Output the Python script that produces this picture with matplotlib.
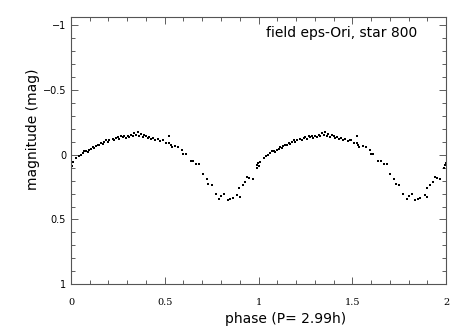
import numpy as np
import matplotlib
matplotlib.use("Agg")
import matplotlib.pyplot as plt
from matplotlib.ticker import MultipleLocator, FixedLocator

# phase-folded light curve, one cycle (drawn twice: phase and phase+1)
phase = [0.005, 0.009, 0.027, 0.041, 0.053, 0.062, 0.071, 0.080, 0.089, 0.098,
         0.107, 0.116, 0.124, 0.133, 0.142, 0.151, 0.160, 0.169, 0.178, 0.187,
         0.196, 0.204, 0.222, 0.231, 0.240, 0.249, 0.258, 0.267, 0.276, 0.284,
         0.293, 0.302, 0.311, 0.320, 0.329, 0.338, 0.347, 0.356, 0.364, 0.373,
         0.382, 0.391, 0.400, 0.409, 0.418, 0.427, 0.439, 0.450, 0.462, 0.475,
         0.489, 0.492, 0.507, 0.524, 0.524, 0.532, 0.537, 0.555, 0.572, 0.594,
         0.599, 0.613, 0.638, 0.652, 0.667, 0.684, 0.702, 0.724, 0.732, 0.750,
         0.773, 0.791, 0.800, 0.816, 0.836, 0.848, 0.862, 0.887, 0.901, 0.898,
         0.916, 0.928, 0.940, 0.951, 0.969, 0.990, 0.994, 0.999]
mag = [0.090, 0.056, 0.026, 0.013, 0.000, -0.013, -0.026, -0.031, -0.021, -0.038,
       -0.046, -0.056, -0.051, -0.064, -0.077, -0.072, -0.090, -0.082, -0.100, -0.110,
       -0.098, -0.115, -0.123, -0.113, -0.128, -0.133, -0.123, -0.141, -0.133, -0.146,
       -0.128, -0.148, -0.138, -0.154, -0.141, -0.167, -0.154, -0.175, -0.141, -0.159,
       -0.133, -0.154, -0.141, -0.128, -0.133, -0.123, -0.128, -0.115, -0.118, -0.108,
       -0.115, -0.115, -0.090, -0.146, -0.090, -0.072, -0.056, -0.064, -0.062, -0.038,
       -0.005, -0.005, 0.046, 0.051, 0.072, 0.072, 0.149, 0.185, 0.226, 0.231,
       0.303, 0.338, 0.320, 0.303, 0.349, 0.338, 0.333, 0.308, 0.328, 0.256,
       0.231, 0.210, 0.174, 0.180, 0.185, 0.103, 0.077, 0.064]

title_text = "field eps-Ori, star 800"
x_label = "phase (P= 2.99h)"
y_label = "magnitude (mag)"

fig = plt.figure(figsize=(4.71, 3.27), dpi=100, facecolor='w')
ax = fig.add_axes([0.1507, 0.1306, 0.7963, 0.8164])

ph = np.array(phase)
mg = np.array(mag)
ax.plot(np.concatenate([ph, ph + 1]), np.concatenate([mg, mg]), 's',
        color='black', markersize=1.9, markeredgewidth=0)

ax.set_xlim(0, 2)
ax.set_ylim(1, -1.06)

ax.xaxis.set_major_locator(FixedLocator([0, 0.5, 1, 1.5, 2]))
ax.xaxis.set_minor_locator(MultipleLocator(0.1))
ax.yaxis.set_major_locator(FixedLocator([-1, -0.5, 0, 0.5, 1]))
ax.yaxis.set_minor_locator(MultipleLocator(0.1))
ax.set_xticklabels(['0', '0.5', '1', '1.5', '2'], family='DejaVu Serif')
ax.set_yticklabels(['\u22121', '\u22120.5', '0', '0.5', '1'])

ax.tick_params(which='both', direction='in', top=True, right=True,
               labelsize=7, color='#444444', width=0.6)
ax.tick_params(which='major', length=5)
ax.tick_params(which='minor', length=3)
ax.tick_params(axis='x', pad=10)

for s in ax.spines.values():
    s.set_color('#555555')
    s.set_linewidth(0.8)

ax.text(0.923, 0.94, title_text, transform=ax.transAxes, ha='right',
        va='center', fontsize=10)
ax.set_xlabel(x_label, fontsize=10)
ax.xaxis.set_label_coords(0.573, -0.103)
ax.set_ylabel(y_label, fontsize=10)
ax.yaxis.set_label_coords(-0.083, 0.58)

fig.savefig('out.png', dpi=100)
